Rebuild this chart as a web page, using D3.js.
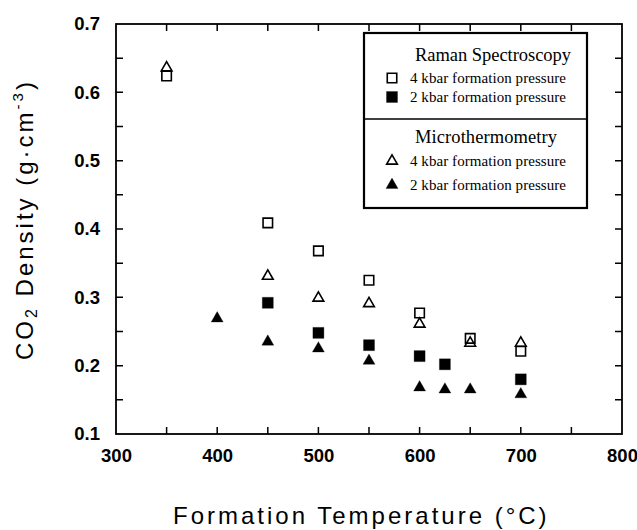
<!DOCTYPE html>
<html>
<head>
  <meta charset="utf-8">
  <title>CO2 density</title>
  <style>
    body { margin: 0; background: #fff; }
    text { fill: #000; }
  </style>
</head>
<body>
  <script src="https://cdn.jsdelivr.net/npm/d3@7"></script>
  <script>

      // data
      var ramanT4 = [350, 450, 500, 550, 600, 650, 700];
      var raman4 = [0.624, 0.409, 0.368, 0.325, 0.277, 0.240, 0.221];
      var ramanT2 = [450, 500, 550, 600, 625, 700];
      var raman2 = [0.292, 0.248, 0.230, 0.214, 0.202, 0.180];
      var microT4 = [350, 450, 500, 550, 600, 650, 700];
      var micro4 = [0.636, 0.331, 0.299, 0.291, 0.261, 0.233, 0.233];
      var microT2 = [400, 450, 500, 550, 600, 625, 650, 700];
      var micro2 = [0.269, 0.235, 0.225, 0.207, 0.168, 0.165, 0.165, 0.158];

      var xTicks = [300, 400, 500, 600, 700, 800];
      var yTicks = [0.1, 0.2, 0.3, 0.4, 0.5, 0.6, 0.7];
      var xMinor = [350, 400, 450, 500, 550, 600, 650, 700, 750];
      var yMinor = [0.15, 0.2, 0.25, 0.3, 0.35, 0.4, 0.45, 0.5, 0.55, 0.6, 0.65];

      var W = 637, H = 530;
      var m = {left: 116, top: 24, right: 15, bottom: 96};
      var iw = W - m.left - m.right, ih = H - m.top - m.bottom;

      var svg = d3.select("body").append("svg").attr("width", W).attr("height", H);
      var g = svg.append("g").attr("transform", "translate(" + m.left + "," + m.top + ")");

      var x = d3.scaleLinear().domain([300, 800]).range([0, iw]);
      var y = d3.scaleLinear().domain([0.1, 0.7]).range([ih, 0]);

      // inward ticks on all four sides, one path
      var tk = 7;
      var tickPath = "";
      xMinor.forEach(function(d){
        tickPath += "M" + x(d) + "," + ih + "v" + (-tk);
        tickPath += "M" + x(d) + ",0v" + tk;
      });
      yMinor.forEach(function(d){
        tickPath += "M0," + y(d) + "h" + tk;
        tickPath += "M" + iw + "," + y(d) + "h" + (-tk);
      });
      g.append("path").attr("d", tickPath)
        .attr("fill", "none").attr("stroke", "#000").attr("stroke-width", 1.5);

      // tick labels
      var xl = g.append("g").attr("transform", "translate(0," + ih + ")")
        .call(d3.axisBottom(x).tickValues(xTicks).tickSize(0).tickPadding(15).tickFormat(d3.format("d")));
      xl.select(".domain").remove();
      var yl = g.append("g")
        .call(d3.axisLeft(y).tickValues(yTicks).tickSize(0).tickPadding(16).tickFormat(d3.format(".1f")));
      yl.select(".domain").remove();
      svg.selectAll(".tick text")
        .attr("font-family", "Liberation Sans, Arial, sans-serif")
        .attr("font-weight", "bold").attr("font-size", 18.5).attr("fill", "#000");

      g.append("rect").attr("width", iw).attr("height", ih)
        .attr("fill", "none").attr("stroke", "#000").attr("stroke-width", 1.8);

      // axis titles
      svg.append("text")
        .attr("x", 173).attr("y", 524)
        .attr("font-family", "Liberation Sans, Arial, sans-serif")
        .attr("font-size", 24).attr("letter-spacing", 3)
        .text("Formation Temperature (°C)");

      var yt = svg.append("text")
        .attr("transform", "translate(33,360) rotate(-90)")
        .attr("font-family", "Liberation Sans, Arial, sans-serif")
        .attr("font-size", 24).attr("letter-spacing", 3);
      yt.append("tspan").text("CO");
      yt.append("tspan").attr("font-size", 16).attr("dy", 4).text("2");
      yt.append("tspan").attr("dy", -4).text(" Density (g·cm");
      yt.append("tspan").attr("font-size", 15).attr("dy", -10).text("-3");
      yt.append("tspan").attr("dy", 10).text(")");

      var sqOpen = d3.symbol().type(d3.symbolSquare).size(90);
      var sqFill = d3.symbol().type(d3.symbolSquare).size(121);
      var triOpen = d3.symbol().type(d3.symbolTriangle).size(50);
      var triFill = d3.symbol().type(d3.symbolTriangle).size(62);

      function plot(xs, ys, sym, filled) {
        g.selectAll(null).data(xs).enter().append("path")
          .attr("d", sym)
          .attr("transform", function(d, i){ return "translate(" + x(d) + "," + y(ys[i]) + ")"; })
          .attr("fill", filled ? "#000" : "#fff")
          .attr("fill-opacity", filled ? 1 : 0)
          .attr("stroke", "#000")
          .attr("stroke-width", filled ? 0.3 : 1.6);
      }
      plot(ramanT4, raman4, sqOpen, false);
      plot(ramanT2, raman2, sqFill, true);
      plot(microT4, micro4, triOpen, false);
      plot(microT2, micro2, triFill, true);

      // legend
      var lg = svg.append("g").attr("transform", "translate(364,33)");
      lg.append("rect").attr("width", 223).attr("height", 175)
        .attr("fill", "#fff").attr("stroke", "#000").attr("stroke-width", 2.2);
      lg.append("line").attr("x1", 0).attr("x2", 223).attr("y1", 86).attr("y2", 86)
        .attr("stroke", "#000").attr("stroke-width", 1.3);

      var serif = "Liberation Serif, Times New Roman, serif";
      lg.append("text").attr("x", 51).attr("y", 28)
        .attr("font-family", serif).attr("font-size", 18.5)
        .attr("textLength", 156).text("Raman Spectroscopy");
      lg.append("text").attr("x", 51).attr("y", 110)
        .attr("font-family", serif).attr("font-size", 18.5)
        .attr("textLength", 142).text("Microthermometry");

      var legItems = [
        {sym: sqOpen, filled: false, y: 45, label: "4 kbar formation pressure"},
        {sym: sqFill, filled: true, y: 64, label: "2 kbar formation pressure"},
        {sym: triOpen, filled: false, y: 128, label: "4 kbar formation pressure"},
        {sym: triFill, filled: true, y: 152, label: "2 kbar formation pressure"}
      ];
      legItems.forEach(function(it){
        lg.append("path").attr("d", it.sym)
          .attr("transform", "translate(28," + it.y + ")")
          .attr("fill", it.filled ? "#000" : "#fff")
          .attr("stroke", "#000").attr("stroke-width", it.filled ? 0.3 : 1.6);
        lg.append("text").attr("x", 46).attr("y", it.y + 5)
          .attr("font-family", serif).attr("font-size", 15)
          .attr("textLength", 156).text(it.label);
      });

  </script>
</body>
</html>
